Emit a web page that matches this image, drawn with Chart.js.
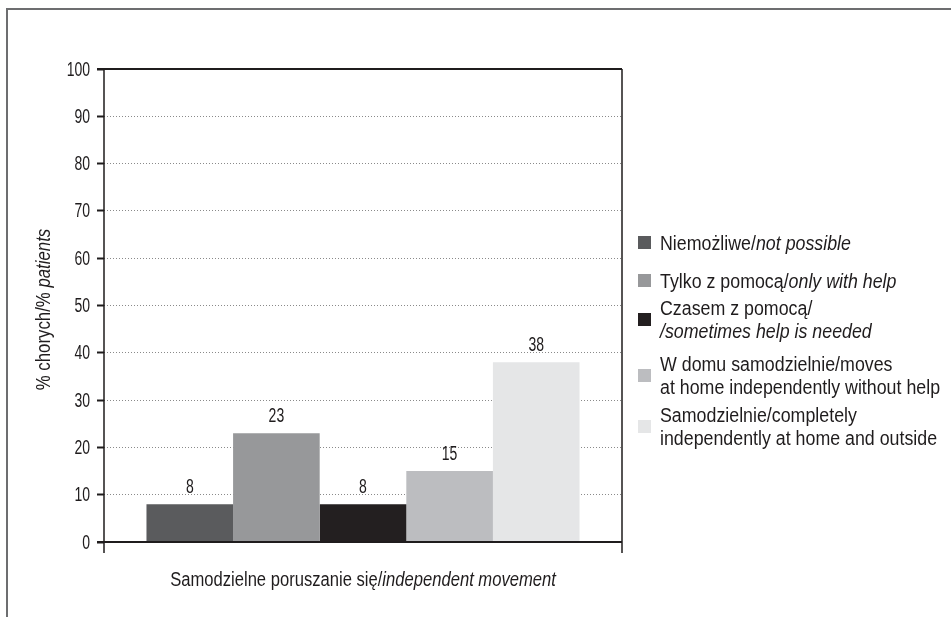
<!DOCTYPE html>
<html>
<head>
<meta charset="utf-8">
<script src="https://cdn.jsdelivr.net/npm/chart.js@4.4.1/dist/chart.umd.min.js"></script>
<style>
  html, body { margin: 0; padding: 0; background: #fff; }
  #wrap { position: relative; width: 951px; height: 617px; }
</style>
</head>
<body>
<div id="wrap"><canvas id="c" width="951" height="617"></canvas></div>
<script>
// Share of patients (%) by ability to move independently
const seriesValues = [8, 23, 8, 15, 38];
const seriesColors = ['#5a5b5d', '#97989a', '#231f20', '#bcbdc0', '#e5e6e7'];
// Legend entries: lines of [text, italic] segments
const seriesLabels = [
  [[['Niemożliwe/', false], ['not possible', true]]],
  [[['Tylko z pomocą/', false], ['only with help', true]]],
  [[['Czasem z pomocą/', false]], [['/sometimes help is needed', true]]],
  [[['W domu samodzielnie/moves', false]], [['at home independently without help', false]]],
  [[['Samodzielnie/completely', false]], [['independently at home and outside', false]]]
];
const categories = ['Samodzielne poruszanie się/independent movement'];
const categoryParts = [['Samodzielne poruszanie się/', false], ['independent movement', true]];
const yTitleParts = [['% chorych/% ', false], ['patients', true]];
const yTicks = [0, 10, 20, 30, 40, 50, 60, 70, 80, 90, 100];

// condensed look: a regular sans squeezed horizontally
const FONT = '"Liberation Sans", Arial, sans-serif';
const FS = 20;
const INK = '#1f1c1d';

function fontOf(italic) { return (italic ? 'italic ' : '') + FS + 'px ' + FONT; }
function partsWidth(ctx, parts) {
  let w = 0;
  for (const [t, it] of parts) { ctx.font = fontOf(it); w += ctx.measureText(t).width; }
  return w;
}
// draws mixed regular/italic text, squeezed by sx; align: 'left' | 'center' | 'right'
function drawText(ctx, parts, x, y, sx, align) {
  const w = partsWidth(ctx, parts) * sx;
  let x0 = align === 'center' ? x - w / 2 : align === 'right' ? x - w : x;
  ctx.save();
  ctx.translate(x0, y);
  ctx.scale(sx, 1);
  ctx.textAlign = 'left';
  let cx = 0;
  for (const [t, it] of parts) {
    ctx.font = fontOf(it);
    ctx.fillText(t, cx, 0);
    cx += ctx.measureText(t).width;
  }
  ctx.restore();
}

const SX_NUM = 0.70, SX_CAT = 0.83, SX_LEG = 0.89, SX_YT = 0.84;

const decor = {
  id: 'decor',
  beforeDraw(chart) {
    const ctx = chart.ctx;
    ctx.save();
    ctx.fillStyle = '#fff';
    ctx.fillRect(0, 0, chart.width, chart.height);
    // outer frame (top and left edges)
    ctx.strokeStyle = '#6d6e70';
    ctx.lineWidth = 2;
    ctx.beginPath();
    ctx.moveTo(951, 9); ctx.lineTo(7, 9); ctx.lineTo(7, 617);
    ctx.stroke();
    ctx.restore();
  },
  afterDatasetsDraw(chart) {
    const ctx = chart.ctx;
    const a = chart.chartArea;
    const ys = chart.scales.y;
    ctx.save();
    // axes and frame of plot
    ctx.strokeStyle = INK;
    ctx.lineWidth = 1.5;
    ctx.beginPath();
    ctx.moveTo(a.left, a.top); ctx.lineTo(a.left, a.bottom + 11);
    ctx.moveTo(a.right, a.top); ctx.lineTo(a.right, a.bottom + 11);
    ctx.stroke();
    ctx.lineWidth = 2;
    ctx.beginPath();
    ctx.moveTo(a.left - 7, ys.getPixelForValue(0)); ctx.lineTo(a.right, ys.getPixelForValue(0));
    ctx.moveTo(a.left - 7, ys.getPixelForValue(100)); ctx.lineTo(a.right, ys.getPixelForValue(100));
    ctx.stroke();

    ctx.fillStyle = INK;
    ctx.textBaseline = 'middle';
    // y tick labels
    yTicks.forEach(v => drawText(ctx, [[String(v), false]], a.left - 14, ys.getPixelForValue(v) + 1, SX_NUM, 'right'));

    // value labels above bars
    ctx.textBaseline = 'alphabetic';
    chart.data.datasets.forEach((ds, i) => {
      const el = chart.getDatasetMeta(i).data[0];
      drawText(ctx, [[String(ds.data[0]), false]], el.x, el.y - 11, SX_NUM, 'center');
    });

    // category label under the axis
    ctx.textBaseline = 'middle';
    drawText(ctx, categoryParts, (a.left + a.right) / 2, 580, SX_CAT, 'center');

    // rotated y-axis title
    ctx.save();
    ctx.translate(44, (a.top + a.bottom) / 2 + 4);
    ctx.rotate(-Math.PI / 2);
    drawText(ctx, yTitleParts, 0, 0, SX_YT, 'center');
    ctx.restore();

    // legend
    const rows = [243, 281, 320, 376, 427];
    const lh = 23;
    seriesLabels.forEach((lines, i) => {
      const cy = rows[i];
      ctx.fillStyle = seriesColors[i];
      ctx.fillRect(638, cy - 7, 13, 13);
      ctx.fillStyle = INK;
      const y0 = cy - (lines.length - 1) * lh / 2;
      lines.forEach((ln, j) => drawText(ctx, ln, 660, y0 + j * lh + 1, SX_LEG, 'left'));
    });
    ctx.restore();
  }
};

new Chart(document.getElementById('c'), {
  type: 'bar',
  data: {
    labels: categories,
    datasets: seriesValues.map((v, i) => ({
      label: seriesLabels[i].map(l => l.map(p => p[0]).join('')).join(' '),
      data: [v],
      backgroundColor: seriesColors[i],
      borderWidth: 0
    }))
  },
  options: {
    responsive: false,
    animation: false,
    devicePixelRatio: 1,
    layout: { padding: { left: 0, top: 69, right: 329, bottom: 75 } },
    plugins: { legend: { display: false }, tooltip: { enabled: false } },
    datasets: { bar: { categoryPercentage: 0.836, barPercentage: 1.0 } },
    scales: {
      x: { display: false },
      y: {
        min: 0, max: 100,
        afterBuildTicks(s) { s.ticks = yTicks.map(v => ({ value: v })); },
        afterFit(s) { s.width = 104; },
        border: { display: false, dash: [1, 2] },
        grid: {
          drawTicks: true,
          tickLength: 7,
          tickColor: INK,
          tickWidth: 2,
          tickBorderDash: [],
          color: ctx => (ctx.tick && (ctx.tick.value === 0 || ctx.tick.value === 100)) ? 'rgba(0,0,0,0)' : '#8a8a8a',
          lineWidth: 1
        },
        ticks: { display: false }
      }
    }
  },
  plugins: [decor]
});
</script>
</body>
</html>
